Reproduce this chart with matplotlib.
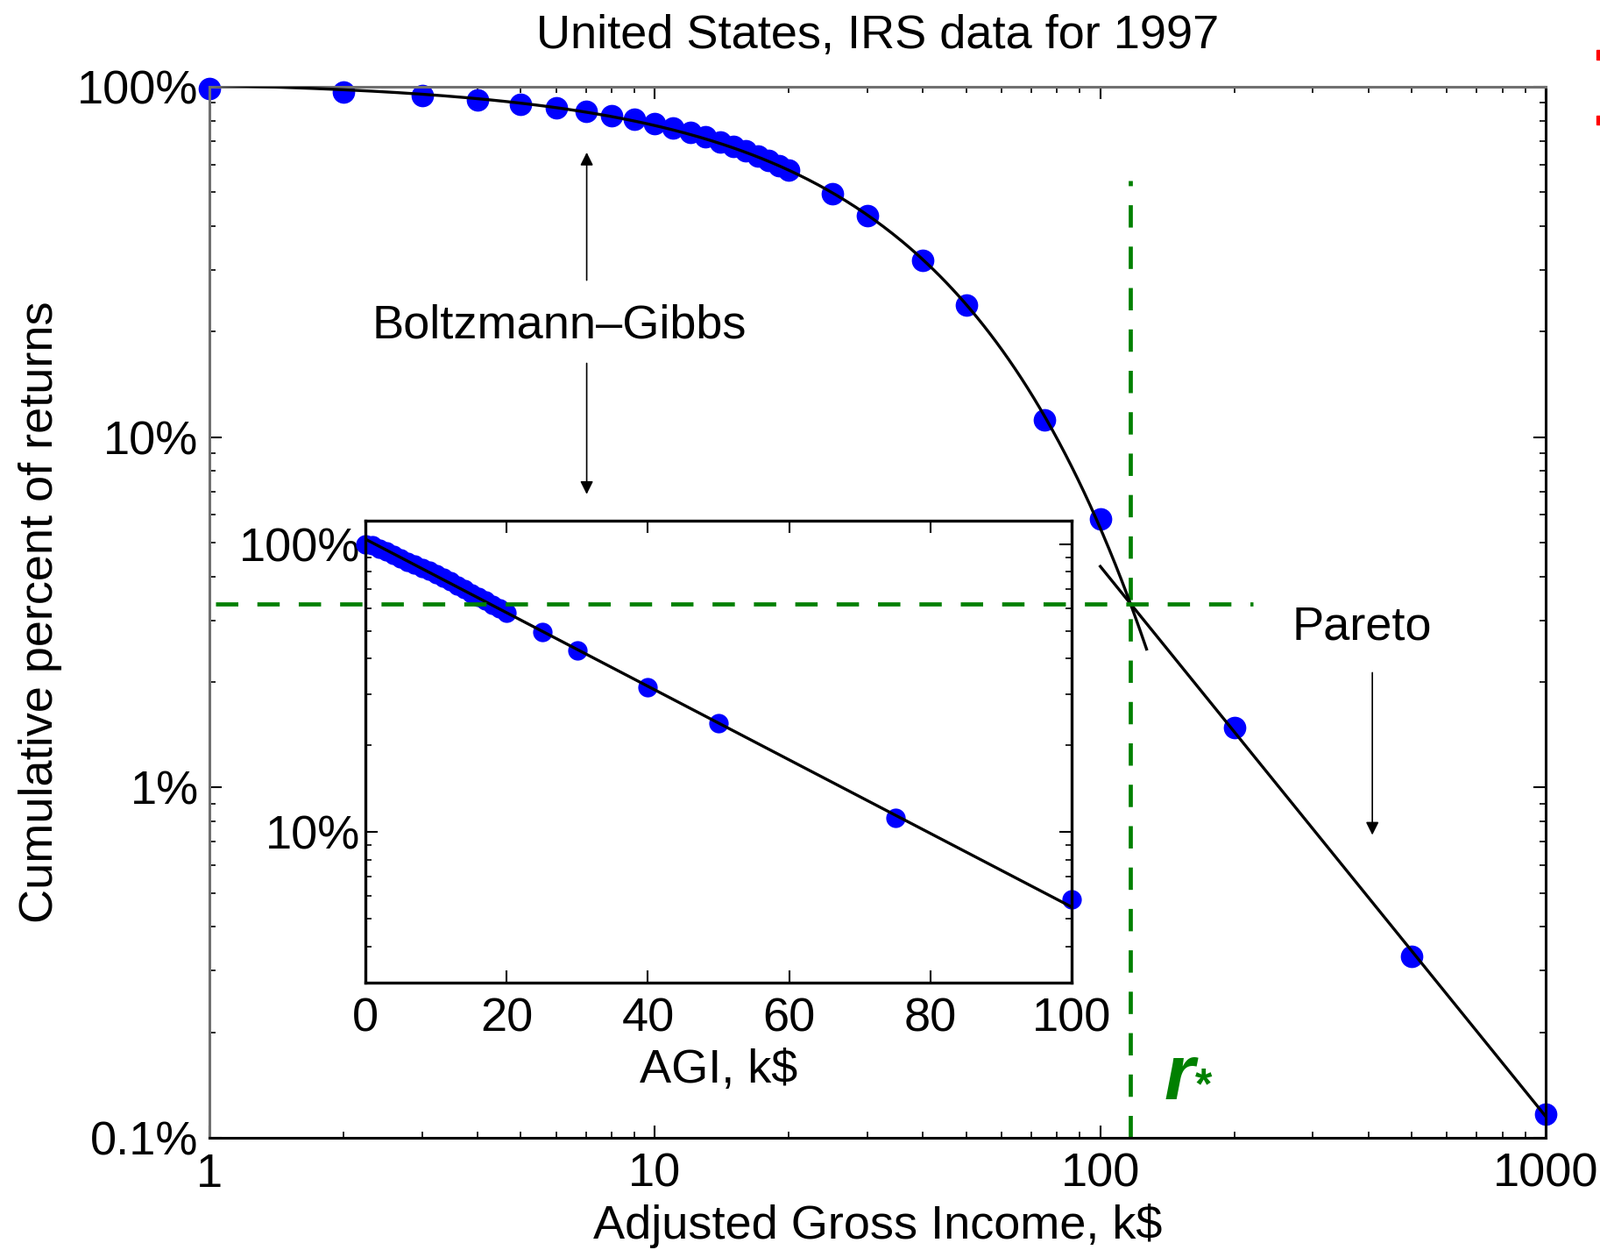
import numpy as np
import matplotlib
matplotlib.use("Agg")
import matplotlib.pyplot as plt
from matplotlib.patches import Rectangle
from matplotlib.lines import Line2D

plt.rcParams['font.family'] = ['Liberation Sans', 'DejaVu Sans']

# IRS 1997 data: adjusted gross income (k$) and cumulative percent of returns
agi = [1, 2, 3, 4, 5, 6, 7, 8, 9, 10, 11, 12, 13, 14, 15, 16, 17, 18, 19, 20,
       25, 30, 40, 50, 75, 100, 200, 500, 1000]
pct = [99.0, 96.6, 94.4, 91.8, 89.2, 87.0, 84.9, 82.6, 80.6, 78.5,
       76.3, 74.1, 71.9, 69.7, 67.6, 65.5, 63.5, 61.5, 59.6, 57.7,
       49.4, 42.8, 31.9, 23.8, 11.2, 5.85, 1.48, 0.33, 0.117]

# inset (linear AGI up to 100 k$), includes the zero-income point
inset_agi = [0] + [a for a in agi if a <= 100]
inset_pct = [100.0] + [p for a, p in zip(agi, pct) if a <= 100]

# fitted laws
bg_amp, bg_T = 104.0, 34.0          # Boltzmann-Gibbs: A*exp(-r/T)
bg_range = (1, 127)
pareto_alpha = 1.57                 # Pareto: C*r^-alpha
r_star, p_star = 117.0, 3.34
pareto_range = (100, 1000)

main_xticks = [1, 10, 100, 1000]
main_xlabels = ["1", "10", "100", "1000"]
main_yticks = [0.1, 1, 10, 100]
main_ylabels = ["0.1%", "1%", "10%", "100%"]
inset_xticks = [0, 20, 40, 60, 80, 100]
inset_yticks = [10, 100]
inset_ylabels = ["10%", "100%"]

blue = "#0000ff"
green = "#008000"
fs = 39
dash = (5.4, 4.6)

fig = plt.figure(figsize=(18.26, 14.26), dpi=100)
ax = fig.add_axes([0.1309, 0.0898, 0.8352, 0.8408])

r_bg = np.logspace(np.log10(bg_range[0]), np.log10(bg_range[1]), 300)
ax.plot(r_bg, bg_amp * np.exp(-r_bg / bg_T), color="k", lw=2.4, zorder=3)
pareto_c = p_star * r_star ** pareto_alpha
r_p = np.logspace(np.log10(pareto_range[0]), np.log10(pareto_range[1]), 100)
ax.plot(r_p, pareto_c * r_p ** (-pareto_alpha), color="k", lw=2.4, zorder=3)
ax.plot(agi, pct, "o", color=blue, ms=18.5, mec="none", zorder=2, clip_on=False)

ax.set_xscale("log")
ax.set_yscale("log")
ax.set_xlim(1, 1000)
ax.set_ylim(0.1, 100)
ax.set_xticks(main_xticks)
ax.set_xticklabels(main_xlabels)
ax.set_yticks(main_yticks)
ax.set_yticklabels(main_ylabels)
ax.tick_params(which="both", direction="in", top=True, right=True, labelsize=fs)
ax.tick_params(which="major", length=10, width=1.5)
ax.tick_params(which="minor", length=5, width=1.2)
ax.tick_params(axis="x", which="major", pad=12)
ax.tick_params(axis="y", which="major", pad=9)
for s in ["left", "top"]:
    ax.spines[s].set_color("#707070")
for s in ax.spines.values():
    s.set_linewidth(2.2)

ax.set_title("United States, IRS data for 1997", fontsize=fs, pad=32)
ax.set_xlabel("Adjusted Gross Income, k$", fontsize=fs, labelpad=6)
ax.set_ylabel("Cumulative percent of returns", fontsize=fs, labelpad=12)

# r* markers
ax.plot([r_star, r_star], [0.1, 54], "--", color=green, lw=3.4, dashes=dash)
ax.text(139, 0.129, "r", color=green, fontsize=64, fontstyle="italic",
        fontweight="bold", va="baseline", ha="left")
ax.text(163, 0.129, "*", color=green, fontsize=36, fontweight="bold",
        va="baseline", ha="left")

# annotations
ax.text(6.1, 20.8, "Boltzmann\u2013Gibbs", fontsize=fs, ha="center", va="center")
arrow = dict(arrowstyle="-|>", color="k", lw=1.2, mutation_scale=22)
ax.annotate("", xy=(7.03, 66), xytext=(7.03, 27.6), arrowprops=arrow)
ax.annotate("", xy=(7.03, 6.76), xytext=(7.03, 16.5), arrowprops=arrow)
ax.text(387, 2.87, "Pareto", fontsize=fs, ha="center", va="center")
ax.annotate("", xy=(408, 0.72), xytext=(408, 2.16), arrowprops=arrow)

# inset
ins = fig.add_axes([0.2284, 0.2139, 0.4414, 0.3696])
r_lin = np.linspace(0, 100, 200)
ins.plot(r_lin, bg_amp * np.exp(-r_lin / bg_T), color="k", lw=2.4, zorder=3)
ins.plot(inset_agi, inset_pct, "o", color=blue, ms=16, mec="none", zorder=2, clip_on=False)
ins.set_yscale("log")
ins.set_xlim(0, 100)
ins.set_ylim(3.0, 120.6)
ins.set_xticks(inset_xticks)
ins.set_yticks(inset_yticks)
ins.set_yticklabels(inset_ylabels)
ins.tick_params(which="both", direction="in", top=True, right=True, labelsize=fs)
ins.tick_params(which="major", length=10, width=1.5)
ins.tick_params(which="minor", length=5, width=1.2)
ins.tick_params(axis="x", which="major", pad=12)
ins.tick_params(axis="y", which="major", pad=4)
for s in ins.spines.values():
    s.set_linewidth(2.4)
ins.set_xlabel("AGI, k$", fontsize=fs, labelpad=6)

# horizontal r* line drawn over the inset
hline = Line2D([1.03, 220], [p_star, p_star], transform=ax.transData, ls="--",
               color=green, lw=3.4, dashes=dash, zorder=5)
fig.add_artist(hline)

# small red marks at the right edge
fig.add_artist(Rectangle((1822 / 1826, 1 - 68 / 1426), 4 / 1826, 11 / 1426,
                         transform=fig.transFigure, color="red"))
fig.add_artist(Rectangle((1822 / 1826, 1 - 142 / 1426), 4 / 1826, 10 / 1426,
                         transform=fig.transFigure, color="red"))

fig.savefig("out.png", dpi=100)
